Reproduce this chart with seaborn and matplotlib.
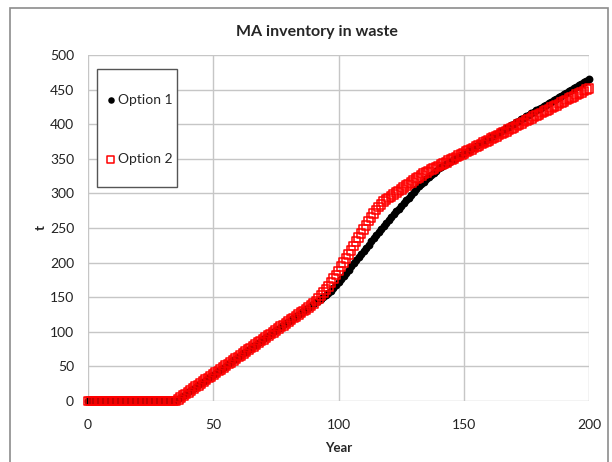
import matplotlib
matplotlib.use('Agg')
import matplotlib.pyplot as plt
from matplotlib.patches import Rectangle
import seaborn as sns
import pandas as pd

# Years 0..200, one point per year
years = list(range(0, 201))

# Option 1 (black dots)
option1 = [0.0] * 36 + [
    2.5, 5.1, 7.6, 10.2, 12.7,
    15.3, 17.8, 20.4, 22.9, 25.5, 28.0, 30.6, 33.1, 35.7, 38.2,
    40.8, 43.3, 45.9, 48.4, 51.0, 53.5, 56.1, 58.6, 61.2, 63.7,
    66.3, 68.8, 71.4, 73.9, 76.5, 79.0, 81.6, 84.1, 86.7, 89.2,
    91.8, 94.3, 96.9, 99.4, 102.0, 104.5, 107.1, 109.6, 112.2, 114.7,
    117.3, 119.8, 122.4, 124.9, 127.5, 130.0, 132.6, 135.1, 137.7, 140.2,
    142.7, 145.2, 147.7, 150.3, 153.0, 156.0, 159.5, 163.5, 167.5, 172.0,
    176.5, 181.0, 185.5, 190.0, 194.5, 199.0, 203.5, 208.0, 212.5, 217.0,
    221.5, 226.0, 230.5, 235.0, 239.5, 244.0, 248.5, 253.0, 257.5, 262.0,
    266.0, 270.0, 274.0, 278.0, 282.0, 286.0, 290.0, 294.0, 298.0, 302.0,
    306.0, 310.0, 313.5, 317.0, 320.5, 324.0, 327.0, 330.0, 333.0, 336.0,
    338.2, 340.4, 342.6, 344.8, 347.0, 349.2, 351.4, 353.6, 355.8, 358.0,
    360.1, 362.2, 364.4, 366.5, 368.6, 370.8, 372.9, 375.0, 377.2, 379.3,
    381.4, 383.6, 385.7, 387.8, 390.0, 392.1, 394.2, 396.4, 398.5, 400.6,
    402.8, 404.9, 407.0, 409.2, 411.3, 413.4, 415.6, 417.7, 419.8, 422.0,
    424.1, 426.2, 428.4, 430.5, 432.6, 434.8, 436.9, 439.0, 441.2, 443.3,
    445.4, 447.6, 449.7, 451.8, 454.0, 456.1, 458.2, 460.4, 462.5, 464.6,
]

# Option 2 (red hollow squares)
option2 = [0.0] * 36 + [
    2.5, 5.1, 7.6, 10.2, 12.7,
    15.3, 17.8, 20.4, 22.9, 25.5, 28.0, 30.6, 33.1, 35.7, 38.2,
    40.8, 43.3, 45.9, 48.4, 51.0, 53.5, 56.1, 58.6, 61.2, 63.7,
    66.3, 68.8, 71.4, 73.9, 76.5, 79.0, 81.6, 84.1, 86.7, 89.2,
    91.8, 94.3, 96.9, 99.4, 102.0, 104.5, 107.1, 109.6, 112.2, 114.7,
    117.3, 119.8, 122.4, 124.9, 127.5, 130.0, 132.6, 135.1, 138.0, 141.0,
    144.5, 148.5, 152.5, 156.5, 161.0, 166.0, 171.0, 176.5, 182.0, 188.0,
    194.0, 200.0, 206.0, 212.0, 218.0, 224.0, 230.0, 236.0, 242.0, 248.0,
    254.0, 260.0, 265.5, 271.0, 276.0, 280.5, 284.5, 288.0, 291.0, 293.5,
    296.0, 298.5, 301.0, 303.5, 306.0, 308.5, 311.0, 313.5, 316.0, 318.5,
    321.0, 323.5, 326.0, 328.5, 330.5, 332.5, 334.5, 336.5, 338.0, 339.5,
    341.4, 343.2, 345.1, 347.0, 348.9, 350.7, 352.6, 354.5, 356.3, 358.2,
    360.1, 361.9, 363.8, 365.7, 367.6, 369.4, 371.3, 373.2, 375.0, 376.9,
    378.8, 380.6, 382.5, 384.4, 386.3, 388.1, 390.0, 391.9, 393.7, 395.6,
    397.5, 399.3, 401.2, 403.1, 405.0, 406.8, 408.7, 410.6, 412.4, 414.3,
    416.2, 418.0, 419.9, 421.8, 423.7, 425.5, 427.4, 429.3, 431.1, 433.0,
    434.9, 436.7, 438.6, 440.5, 442.4, 444.2, 446.1, 448.0, 449.8, 451.7,
]

x_ticks = [0, 50, 100, 150, 200]
y_ticks = [0, 50, 100, 150, 200, 250, 300, 350, 400, 450, 500]

df = pd.DataFrame({'Year': years, 'Option 1': option1, 'Option 2': option2})

sns.set_style('white')
plt.rcParams['font.family'] = ['Lato', 'DejaVu Sans']

fig = plt.figure(figsize=(6.12, 4.62), dpi=100)
ax = fig.add_axes([88 / 612, 1 - 401 / 462, 501 / 612, 346 / 462])

# outer chart frame like the Excel chart area
fig.patches.append(Rectangle((10 / 612, -0.01), 598 / 612, 1 - 8 / 462 + 0.01,
                             transform=fig.transFigure, fill=False,
                             edgecolor='#8c8c8c', linewidth=1.2))

sns.scatterplot(data=df, x='Year', y='Option 1', ax=ax, color='black',
                marker='o', s=32, linewidth=0, label='Option 1', zorder=3)
sns.scatterplot(data=df, x='Year', y='Option 2', ax=ax, marker='s', s=40,
                facecolors='none', edgecolor='red', linewidth=1.1,
                label='Option 2', zorder=4)

ax.set_xlim(0, 200)
ax.set_ylim(0, 500)
ax.set_xticks(x_ticks)
ax.set_yticks(y_ticks)
ax.grid(True, color='#c6c6c6', linewidth=1)
ax.set_axisbelow(True)
for s in ax.spines.values():
    s.set_visible(False)
ax.tick_params(axis='y', length=0, labelsize=10, colors='#222222', pad=10)
ax.tick_params(axis='x', length=0, labelsize=10, colors='#222222', pad=13)
for c in ax.collections:
    c.set_clip_on(False)

ax.set_xlabel('Year', fontsize=9.5, fontweight='bold', labelpad=8)
ax.set_ylabel('t', fontsize=9.5, fontweight='bold', labelpad=2)
fig.text(317 / 612, 1 - 32 / 462, 'MA inventory in waste', fontsize=11.5,
         fontweight='bold', ha='center', va='center')

# legend box drawn separately so its padding can match the reference
ax.add_patch(Rectangle((9 / 501, 1 - 132 / 346), 80 / 501, 118 / 346,
                       transform=ax.transAxes, fill=True, facecolor='white',
                       edgecolor='#555555', linewidth=1, zorder=5, clip_on=False))
leg = ax.legend(loc='upper left', bbox_to_anchor=(-1 / 501, 1 - 22 / 346),
                frameon=False, fontsize=10, labelspacing=3.4, borderpad=1.2,
                handletextpad=0.0, handlelength=1.0, borderaxespad=0)
leg.set_zorder(6)
for h in leg.legend_handles:
    h.set_sizes([22])

plt.savefig('out.png', dpi=100)
